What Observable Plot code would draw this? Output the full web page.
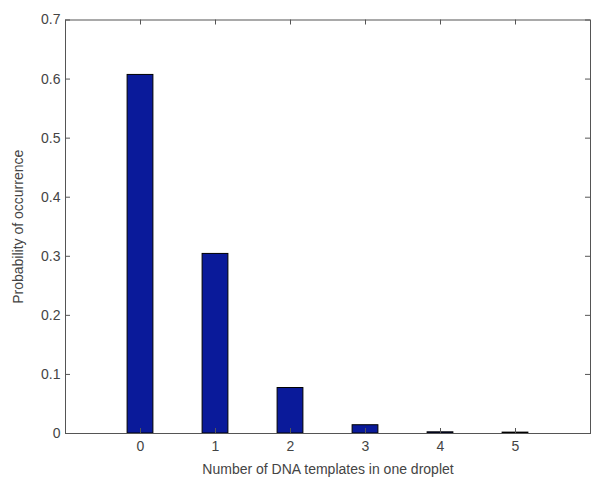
<!DOCTYPE html>
<html>
<head>
<meta charset="utf-8">
<script src="https://cdn.jsdelivr.net/npm/d3@7"></script>
<script src="https://cdn.jsdelivr.net/npm/@observablehq/plot@0.6"></script>
<style>
  html, body { margin: 0; padding: 0; background: #fff; }
  #chart svg { display: block; }
</style>
</head>
<body>
<div id="chart"></div>
<script>
const templates = [0, 1, 2, 3, 4, 5];
const probabilities = [0.607, 0.304, 0.077, 0.014, 0.002, 0.0015];
const xTicks = [0, 1, 2, 3, 4, 5];
const yTicks = [0, 0.1, 0.2, 0.3, 0.4, 0.5, 0.6, 0.7];

const data = templates.map((k, i) => ({k, p: probabilities[i]}));

const W = 600, H = 480;
const mTop = 19.5, mBottom = 47, mLeft = 65, mRight = 10;
const plotH = H - mTop - mBottom;
const plotW = W - mLeft - mRight;
const tick = 5;
const textColor = "#444";
const axisColor = "#555";

const chart = Plot.plot({
  width: W,
  height: H,
  marginTop: mTop,
  marginBottom: mBottom,
  marginLeft: mLeft,
  marginRight: mRight,
  style: {fontFamily: "'Liberation Sans', Arial, sans-serif", fontSize: "14px", background: "#fff"},
  x: {domain: [-1, 6]},
  y: {domain: [0, 0.7]},
  marks: [
    Plot.rectY(data, {
      x1: d => d.k - 0.5, x2: d => d.k + 0.5, y: "p",
      insetLeft: 24.6, insetRight: 24.6,
      fill: "#0a1a9a", stroke: "#000", strokeWidth: 1
    }),
    // inward ticks on all four sides
    Plot.tickX(xTicks, {x: d => d, insetTop: plotH - tick, stroke: axisColor}),
    Plot.tickX(xTicks, {x: d => d, insetBottom: plotH - tick, stroke: axisColor}),
    Plot.tickY(yTicks, {y: d => d, insetRight: plotW - tick, stroke: axisColor}),
    Plot.tickY(yTicks, {y: d => d, insetLeft: plotW - tick, stroke: axisColor}),
    Plot.frame({stroke: axisColor, strokeWidth: 1}),
    Plot.axisX(xTicks, {
      tickSize: 0, tickPadding: 8, color: textColor, fontSize: 14,
      label: "Number of DNA templates in one droplet", labelAnchor: "center",
      labelArrow: "none", labelOffset: 40
    }),
    Plot.axisY(yTicks, {
      tickSize: 0, tickPadding: 5, color: textColor, fontSize: 14,
      tickFormat: d => d === 0 ? "0" : d3.format(".1f")(d),
      label: "Probability of occurrence", labelAnchor: "center",
      labelArrow: "none", labelOffset: 52
    })
  ]
});
document.getElementById("chart").appendChild(chart);
</script>
</body>
</html>
